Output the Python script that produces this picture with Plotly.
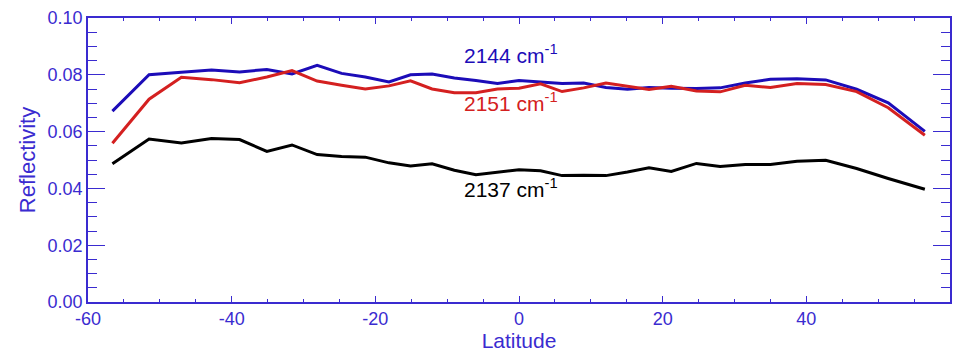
import plotly.graph_objects as go

latitude = [-56.6, -51.5, -47.0, -42.8, -38.9, -35.1, -31.6, -28.1, -24.7, -21.4, -18.1,
            -15.1, -12.1, -9.0, -6.0, -3.0, 0.0, 3.0, 6.0, 9.0, 12.1, 15.1, 18.1, 21.2,
            24.7, 28.0, 31.5, 35.0, 38.7, 42.7, 47.0, 51.4, 56.5]

refl_2144 = [0.0672, 0.0800, 0.0809, 0.0817, 0.0810, 0.0819, 0.0803, 0.0833, 0.0805, 0.0792, 0.0775,
             0.0800, 0.0803, 0.0789, 0.0780, 0.0769, 0.0780, 0.0774, 0.0769, 0.0771, 0.0755, 0.0749,
             0.0755, 0.0753, 0.0752, 0.0754, 0.0771, 0.0784, 0.0786, 0.0782, 0.0749, 0.0701, 0.0601]

refl_2151 = [0.0559, 0.0714, 0.0791, 0.0783, 0.0772, 0.0792, 0.0815, 0.0778, 0.0763, 0.0750, 0.0761,
             0.0779, 0.0750, 0.0737, 0.0737, 0.0750, 0.0753, 0.0768, 0.0741, 0.0754, 0.0771, 0.0760,
             0.0748, 0.0760, 0.0743, 0.0740, 0.0763, 0.0755, 0.0769, 0.0766, 0.0741, 0.0684, 0.0587]

refl_2137 = [0.0487, 0.0574, 0.0560, 0.0576, 0.0572, 0.0530, 0.0553, 0.0519, 0.0512, 0.0510, 0.0490,
             0.0479, 0.0487, 0.0464, 0.0448, 0.0456, 0.0466, 0.0462, 0.0445, 0.0446, 0.0445, 0.0458,
             0.0473, 0.0460, 0.0488, 0.0477, 0.0484, 0.0484, 0.0496, 0.0499, 0.0470, 0.0435, 0.0397]

series_names = ["2144 cm<sup>-1</sup>", "2151 cm<sup>-1</sup>", "2137 cm<sup>-1</sup>"]
label_pos = [(-8.0, 0.0872), (-8.0, 0.0705), (-8.0, 0.0403)]

x_ticks = [-60, -40, -20, 0, 20, 40, 60]
x_ticktext = ["-60", "-40", "-20", "0", "20", "40", "60"]
y_ticks = [0.00, 0.02, 0.04, 0.06, 0.08, 0.10]
y_ticktext = ["0.00", "0.02", "0.04", "0.06", "0.08", "0.10"]

AXIS = "#3a2bd0"
colors = ["#1c0cb8", "#d42020", "#000000"]
FONT = "Liberation Sans, Arial, sans-serif"

fig = go.Figure()
for vals, col in zip([refl_2144, refl_2151, refl_2137], colors):
    fig.add_trace(go.Scatter(x=latitude, y=vals, mode="lines",
                             line=dict(color=col, width=3), showlegend=False))

for name, (lx, ly), col in zip(series_names, label_pos, colors):
    fig.add_annotation(x=lx, y=ly, text=name, showarrow=False, xanchor="left", yanchor="middle",
                       font=dict(family=FONT, size=21, color=col))

fig.update_layout(
    width=960, height=359,
    margin=dict(l=88, r=10, t=8, b=57),
    paper_bgcolor="white", plot_bgcolor="white",
    font=dict(family=FONT, color=AXIS),
)
fig.update_xaxes(
    range=[-60, 60], tickvals=x_ticks, ticktext=x_ticktext, ticks="inside", ticklen=6, tickwidth=1.3,
    tickcolor=AXIS,
    minor=dict(dtick=5, ticks="inside", ticklen=3, tickcolor=AXIS, tickwidth=1),
    showline=True, linecolor=AXIS, linewidth=1.5, mirror="ticks", showgrid=False, zeroline=False,
    tickfont=dict(size=18, color=AXIS),
    title=dict(text="Latitude", font=dict(size=21, color=AXIS), standoff=4),
)
fig.update_yaxes(
    range=[0, 0.10], tickvals=y_ticks, ticktext=y_ticktext, ticks="inside", ticklen=17, tickwidth=1.3,
    tickcolor=AXIS,
    minor=dict(dtick=0.005, ticks="inside", ticklen=9, tickcolor=AXIS, tickwidth=1),
    showline=True, linecolor=AXIS, linewidth=1.5, mirror="ticks", showgrid=False, zeroline=False,
    tickfont=dict(size=18, color=AXIS),
    title=dict(text="Reflectivity", font=dict(size=22, color=AXIS), standoff=6),
)

fig.write_html("out.html")
